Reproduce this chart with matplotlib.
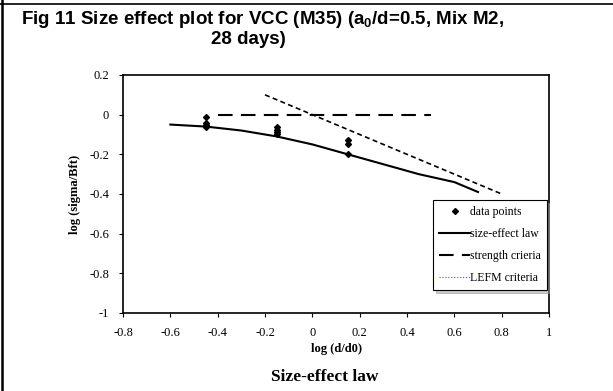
import matplotlib.pyplot as plt
from matplotlib.lines import Line2D

plt.rcParams['mathtext.fontset'] = 'custom'
plt.rcParams['mathtext.rm'] = 'Liberation Sans:bold'
plt.rcParams['mathtext.default'] = 'rm'

# data points
pts_x = [-0.45, -0.45, -0.45, -0.45,
         -0.15, -0.15, -0.15, -0.15,
         0.15, 0.15, 0.15]
pts_y = [-0.01, -0.04, -0.05, -0.06,
         -0.06, -0.075, -0.085, -0.10,
         -0.13, -0.15, -0.20]

# size-effect law curve
law_x = [-0.6, -0.45, -0.3, -0.15, 0.0, 0.15, 0.3, 0.45, 0.6, 0.7]
law_y = [-0.05, -0.06, -0.08, -0.11, -0.15, -0.20, -0.25, -0.30, -0.34, -0.39]

# strength criteria
str_x = [-0.4, 0.5]
str_y = [0.0, 0.0]

# LEFM criteria
lefm_x = [-0.2, 0.8]
lefm_y = [0.1, -0.4]

xticks = [-0.8, -0.6, -0.4, -0.2, 0, 0.2, 0.4, 0.6, 0.8, 1]
yticks = [0.2, 0, -0.2, -0.4, -0.6, -0.8, -1]

serif = 'Liberation Serif'

fig = plt.figure(figsize=(6.13, 3.91), dpi=100)
ax = fig.add_axes([0.2007, 0.1995, 0.6949, 0.6087])

ax.plot(pts_x, pts_y, linestyle='none', marker='D', markersize=3,
        color='black', label='data points')
ax.plot(law_x, law_y, color='black', lw=1.5, label='size-effect law')
ax.plot(str_x, str_y, color='black', lw=1.5, dashes=(7, 4),
        label='strength crieria')
ax.plot(lefm_x, lefm_y, color='black', lw=1.2, dashes=(3, 2))

ax.set_xlim(-0.8, 1)
ax.set_ylim(-1, 0.2)
ax.set_xticks(xticks)
ax.set_yticks(yticks)
ax.set_xticklabels([f'{t:g}' for t in xticks], fontfamily=serif, fontsize=9)
ax.set_yticklabels([f'{t:g}' for t in yticks], fontfamily=serif, fontsize=9)
ax.tick_params(direction='out', length=3, width=0.8, pad=7)
for s in ax.spines.values():
    s.set_linewidth(1.2)

ax.set_xlabel('log (d/d0)', fontfamily=serif, fontweight='bold', fontsize=9, labelpad=3)
ax.set_ylabel('log (sigma/Bft)', fontfamily=serif, fontweight='bold', fontsize=9, labelpad=6)

# legend, LEFM handle drawn blue dotted like the original
handles, labels = ax.get_legend_handles_labels()
handles.append(Line2D([], [], color='#4d4dff', lw=0.8, linestyle=':'))
labels.append('LEFM criteria')
leg = ax.legend(handles, labels, loc='upper right', bbox_to_anchor=(1.0, 0.483),
                prop={'family': serif, 'size': 8.5}, frameon=True, fancybox=False,
                edgecolor='black', shadow={'ox': 2, 'oy': -2, 'color': '0.6'},
                labelspacing=0.85, handlelength=2.6, handletextpad=0.0,
                borderpad=0.5, borderaxespad=0.2)
leg.get_frame().set_linewidth(0.8)

title_font = dict(fontfamily='Liberation Sans', fontweight='bold', fontsize=13.5)
fig.text(263 / 613, 1 - 19 / 391, 'Fig 11 Size effect plot for VCC (M35) (a$_0$/d=0.5, Mix M2,',
         ha='center', va='center', **title_font)
fig.text(248 / 613, 1 - 39 / 391, '28 days)', ha='center', va='center', **title_font)
fig.text(325 / 613, 1 - 377 / 391, 'Size-effect law', ha='center', va='center',
         fontfamily=serif, fontweight='bold', fontsize=12.5)

# frame lines at the left and top edges
fig.add_artist(Line2D([0.004, 0.004], [0, 1], color='black', lw=1.8,
                      transform=fig.transFigure))
fig.add_artist(Line2D([0, 1], [0.99, 0.99], color='black', lw=1.2,
                      transform=fig.transFigure))

fig.savefig('out.png', dpi=100)
